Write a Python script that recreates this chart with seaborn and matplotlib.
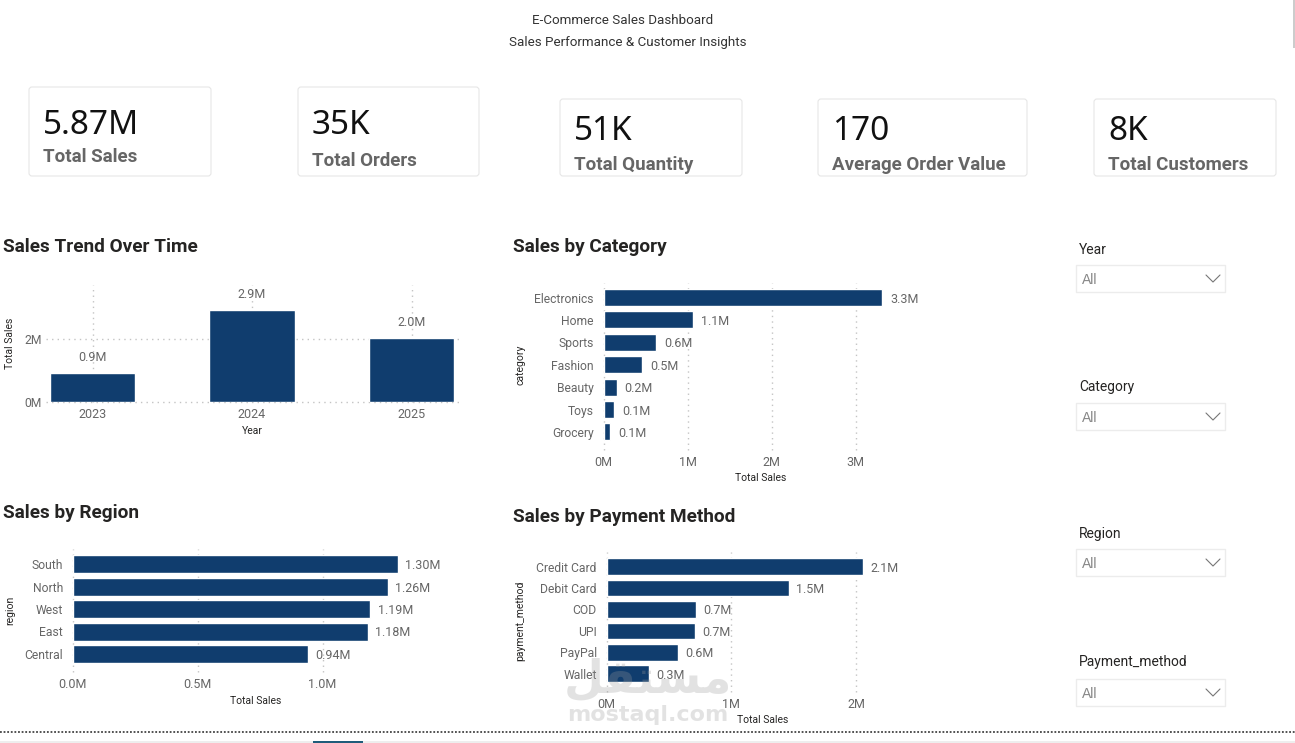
import matplotlib

matplotlib.use("Agg")
import matplotlib.pyplot as plt
import pandas as pd
import seaborn as sns
from matplotlib.patches import FancyBboxPatch, Rectangle

W, H = 1295, 743
NAVY = "#103d6e"
GREY = "#666666"
DARK = "#252423"
GRID = "#c4c4c4"
DOTS = (0, (1, 3))

years = ["2023", "2024", "2025"]
year_sales = [0.92, 2.92, 2.02]

categories = ["Electronics", "Home", "Sports", "Fashion", "Beauty", "Toys", "Grocery"]
category_sales = [3.32, 1.07, 0.63, 0.46, 0.155, 0.13, 0.08]

regions = ["South", "North", "West", "East", "Central"]
region_sales = [1.30, 1.26, 1.19, 1.18, 0.94]

payments = ["Credit Card", "Debit Card", "COD", "UPI", "PayPal", "Wallet"]
payment_sales = [2.055, 1.46, 0.715, 0.71, 0.57, 0.34]

kpi_values = ["5.87M", "35K", "51K", "170", "8K"]
kpi_names = ["Total Sales", "Total Orders", "Total Quantity", "Average Order Value", "Total Customers"]
slicer_names = ["Year", "Category", "Region", "Payment_method"]

sns.set_theme(style="white")
plt.rcParams["font.family"] = ["Roboto", "DejaVu Sans"]

fig = plt.figure(figsize=(W / 100, H / 100), dpi=100)
fig.patch.set_facecolor("white")


def px_axes(left, top, right, bottom):
    return fig.add_axes([left / W, 1 - bottom / H, (right - left) / W, (bottom - top) / H])


def style_axes(ax, box, xlabel, ylabel, xlabel_px, ylabel_px):
    left, top, right, bottom = box
    sns.despine(ax=ax, left=True, bottom=True)
    ax.tick_params(length=0, labelsize=9, labelcolor=GREY)
    ax.tick_params(axis="x", pad=4)
    ax.tick_params(axis="y", pad=3, labelsize=8.7)
    ax.set_axisbelow(True)
    ax.set_xlabel(xlabel, fontsize=7.5, color=DARK)
    ax.set_ylabel(ylabel, fontsize=7.5, color=DARK)
    ax.xaxis.set_label_coords(
        (xlabel_px[0] - left) / (right - left), (bottom - xlabel_px[1]) / (bottom - top), ax.transAxes
    )
    ax.yaxis.set_label_coords(
        (ylabel_px[0] - left) / (right - left), (bottom - ylabel_px[1]) / (bottom - top), ax.transAxes
    )
    ax.xaxis.label.set_verticalalignment("center")
    ax.yaxis.label.set_verticalalignment("center")
    for line in ax.get_xgridlines() + ax.get_ygridlines():
        line.set_clip_on(False)


def hbar_panel(box, names, values, zero_px, px_per_m, first_row, row_px, ticks, tick_fmt, label_fmt, bar_h,
               xlabel, ylabel, xlabel_px, ylabel_px):
    left, top, right, bottom = box
    ax = px_axes(*box)
    df = pd.DataFrame({"name": names, "sales": values})
    sns.barplot(data=df, y="name", x="sales", color=NAVY, saturation=1, width=bar_h, ax=ax)
    ax.set_xlim((left - zero_px) / px_per_m, (right - zero_px) / px_per_m)
    ax.set_ylim((bottom - first_row) / row_px, (top - first_row) / row_px)
    ax.set_xticks(ticks)
    ax.set_xticklabels([tick_fmt.format(t) for t in ticks])
    ax.grid(axis="x", color=GRID, linestyle=DOTS, linewidth=1)
    ax.grid(axis="y", visible=False)
    texts = ax.bar_label(ax.containers[0], labels=[label_fmt.format(v) for v in values],
                         padding=5.5, fontsize=9, color=GREY)
    for text in texts:
        text.set_verticalalignment("center_baseline")
    style_axes(ax, box, xlabel, ylabel, xlabel_px, ylabel_px)
    return ax


# Sales trend columns
trend_box = (46, 285, 460, 402)
ax = px_axes(*trend_box)
trend_df = pd.DataFrame({"year": years, "sales": year_sales})
sns.barplot(data=trend_df, x="year", y="sales", color=NAVY, saturation=1, width=0.533, ax=ax)
ax.set_xlim((46 - 92.5) / 159.5, (460 - 92.5) / 159.5)
ax.set_ylim(0, 117 / 31.5)
ax.set_yticks([0, 2])
ax.set_yticklabels(["0M", "2M"])
ax.grid(color=GRID, linestyle=DOTS, linewidth=1)
ax.bar_label(ax.containers[0], labels=[f"{v:.1f}M" for v in year_sales],
             padding=6.5, fontsize=9, color=GREY)
style_axes(ax, trend_box, "Year", "Total Sales", (252, 431), (10, 343))

hbar_panel((598, 283, 905, 450), categories, category_sales, 603.5, 84, 297.5, 22.4,
           [0, 1, 2, 3], "{:.0f}M", "{:.1f}M", 0.76, "Total Sales", "category", (761, 478), (520, 365))

hbar_panel((67, 549, 445, 672), regions, region_sales, 72.5, 250, 564, 22.5,
           [0, 0.5, 1.0], "{:.1f}M", "{:.2f}M", 0.8, "Total Sales", "region", (256, 701), (10, 610))

hbar_panel((601, 552, 905, 692), payments, payment_sales, 606.5, 124.7, 566.7, 21.4,
           [0, 1, 2], "{:.0f}M", "{:.1f}M", 0.78, "Total Sales", "payment_method", (763, 720), (520, 621))

# Page furniture in pixel coordinates
page = fig.add_axes([0, 0, 1, 1], zorder=5)
page.set_xlim(0, W)
page.set_ylim(H, 0)
page.axis("off")
page.patch.set_alpha(0)

page.text(623, 21, "E-Commerce Sales Dashboard", ha="center", va="center", fontsize=9.6, color="#333333")
page.text(628, 42.5, "Sales Performance & Customer Insights", ha="center", va="center", fontsize=9.6, color="#333333")

card_boxes = [(29, 87, 211, 176), (298, 87, 479, 176), (560, 99, 742, 176), (818, 99, 1027, 176), (1094, 99, 1276, 176)]
value_y = [134, 134, 140, 140, 140]
name_y = [156.5, 160.5, 165.5, 165.5, 165.5]
for (x0, y0, x1, y1), val, name, vy, ny in zip(card_boxes, kpi_values, kpi_names, value_y, name_y):
    page.add_patch(FancyBboxPatch((x0 + 2, y0 + 2), x1 - x0 - 4, y1 - y0 - 4,
                                  boxstyle="round,pad=2,rounding_size=3",
                                  facecolor="white", edgecolor="#e6e6e6", linewidth=0.8))
    page.text(x0 + 14, vy, val, ha="left", va="baseline", fontsize=24, family="Noto Sans", color="#111111")
    page.text(x0 + 14, ny, name, ha="left", va="center", fontsize=13.5, fontweight="bold",
              family="Roboto", color=GREY)

titles = ["Sales Trend Over Time", "Sales by Category", "Sales by Region", "Sales by Payment Method"]
title_pos = [(3, 247), (513, 247), (3, 513), (513, 517)]
for title, (tx, ty) in zip(titles, title_pos):
    page.text(tx, ty, title, ha="left", va="center", fontsize=13.7, fontweight="bold",
              family="Roboto", color=DARK)

slicer_label_y = [250, 387, 534, 662]
slicer_box_y = [264, 402, 548, 678]
for name, ly, by in zip(slicer_names, slicer_label_y, slicer_box_y):
    page.text(1079, ly, name, ha="left", va="center", fontsize=10, family="Roboto", color=DARK)
    page.add_patch(Rectangle((1076, by + 0.5), 148.5, 27.5, facecolor="white", edgecolor="#ececec", linewidth=1))
    page.text(1082, by + 16.5, "All", ha="left", va="center", fontsize=10, family="Liberation Sans", color="#888888")
    page.plot([1206, 1213, 1220], [by + 11, by + 18, by + 11], color="#777777", linewidth=0.8)

# bottom strip
page.plot([0, W], [732, 732], color="#444444", linestyle=(0, (1, 1)), linewidth=1.3)
page.add_patch(Rectangle((0, 741), W, 2, facecolor="#eeeeee", edgecolor="none"))
page.add_patch(Rectangle((313, 741), 50, 2, facecolor="#1f5c7a", edgecolor="none"))
page.add_patch(Rectangle((1293, 0), 2, 48, facecolor="#cccccc", edgecolor="none"))

# watermark
page.text(648, 680, "\ufede\ufed8\ufe98\ufeb4\ufee3", ha="center", va="center", fontsize=33, fontweight="bold",
          family="DejaVu Sans", color="#9a9a9a", alpha=0.28)
page.text(648, 715, "mostaql.com", ha="center", va="center", fontsize=16, fontweight="bold",
          family="DejaVu Sans", color="#9a9a9a", alpha=0.28)

fig.savefig("out.png", dpi=100)
plt.close(fig)
